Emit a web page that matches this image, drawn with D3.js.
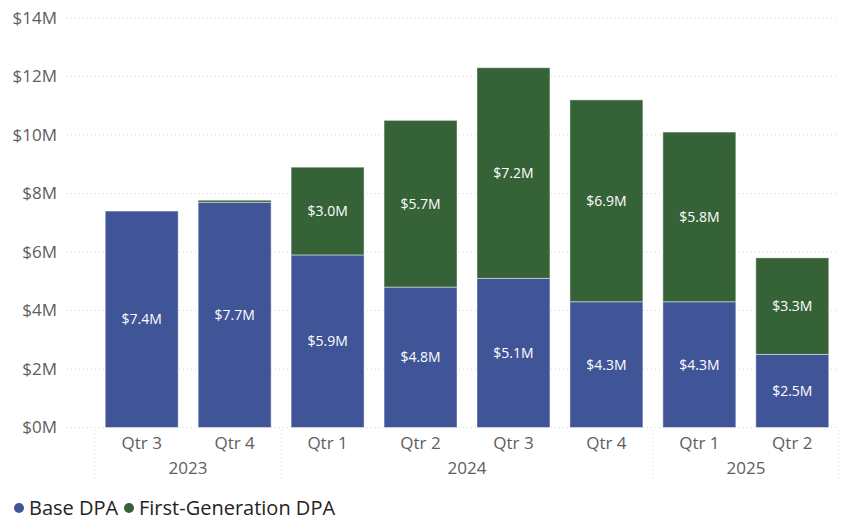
<!DOCTYPE html>
<html>
<head>
<meta charset="utf-8">
<script src="https://cdn.jsdelivr.net/npm/d3@7"></script>
<style>
  body { margin: 0; background: #fff; }
  text { font-family: "Open Sans", "Noto Sans", sans-serif; }
</style>
</head>
<body>
<div id="chart"></div>
<script>
// quarters and years
var quarters = ["Qtr 3", "Qtr 4", "Qtr 1", "Qtr 2", "Qtr 3", "Qtr 4", "Qtr 1", "Qtr 2"];
var years = ["2023", "2023", "2024", "2024", "2024", "2024", "2025", "2025"];
var baseDPA = [7.4, 7.7, 5.9, 4.8, 5.1, 4.3, 4.3, 2.5];
var firstGenDPA = [0, 0.07, 3.0, 5.7, 7.2, 6.9, 5.8, 3.3];
var yTicks = [0, 2, 4, 6, 8, 10, 12, 14];
var seriesNames = ["Base DPA", "First-Generation DPA"];
var colors = ["#3F5597", "#356337"];

var width = 850, height = 521;
var plot = { left: 95, right: 839, top: 18, bottom: 427.5 };

var svg = d3.select("#chart").append("svg")
    .attr("width", width)
    .attr("height", height);

var data = quarters.map(function (q, i) {
    return { key: i, q: q, year: years[i], base: baseDPA[i], first: firstGenDPA[i] };
});

var x = d3.scaleBand()
    .domain(data.map(function (d) { return d.key; }))
    .range([plot.left, plot.right])
    .paddingInner(0.215)
    .paddingOuter(0.11);

var y = d3.scaleLinear().domain([0, 14]).range([plot.bottom, plot.top]);

// gridlines
svg.append("g")
    .selectAll("line")
    .data(yTicks)
    .enter().append("line")
    .attr("x1", 67)
    .attr("x2", plot.right)
    .attr("y1", function (d) { return y(d); })
    .attr("y2", function (d) { return y(d); })
    .attr("stroke", "#d9d9d9")
    .attr("stroke-width", 1)
    .attr("stroke-dasharray", "1,3");

// y axis labels
var yAxis = svg.append("g")
    .attr("transform", "translate(57,0)")
    .call(d3.axisLeft(y).tickValues(yTicks).tickSize(0).tickPadding(0)
        .tickFormat(function (d) { return "$" + d + "M"; }));
yAxis.select(".domain").remove();
yAxis.selectAll("text")
    .attr("fill", "#605E5C")
    .style("font-size", "17px")
    .style("font-family", "'Open Sans', sans-serif");

// stacked bars
var stack = d3.stack().keys(["base", "first"]);
var layers = stack(data);

var groups = svg.selectAll(".layer")
    .data(layers)
    .enter().append("g")
    .attr("class", "layer")
    .attr("fill", function (d, i) { return colors[i]; });

groups.selectAll("rect")
    .data(function (d) { return d; })
    .enter().append("rect")
    .filter(function (d) { return d[1] - d[0] > 0; })
    .attr("x", function (d) { return x(d.data.key); })
    .attr("width", x.bandwidth())
    .attr("y", function (d) { return y(d[1]); })
    .attr("height", function (d) { return y(d[0]) - y(d[1]); })
    .attr("stroke", "rgba(255,255,255,0.45)")
    .attr("stroke-width", 1);

// data labels
groups.selectAll("text.lbl")
    .data(function (d) { return d; })
    .enter().append("text")
    .filter(function (d) { return d[1] - d[0] >= 0.5; })
    .attr("class", "lbl")
    .attr("x", function (d) { return x(d.data.key) + x.bandwidth() / 2; })
    .attr("y", function (d) { return y((d[0] + d[1]) / 2); })
    .attr("dy", "0.35em")
    .attr("text-anchor", "middle")
    .attr("fill", "#ffffff")
    .style("font-size", "14px")
    .text(function (d) { return "$" + (d[1] - d[0]).toFixed(1) + "M"; });

// x axis: quarters
svg.append("g")
    .selectAll("text")
    .data(data)
    .enter().append("text")
    .attr("x", function (d) { return x(d.key) + x.bandwidth() / 2; })
    .attr("y", 449)
    .attr("text-anchor", "middle")
    .attr("fill", "#605E5C")
    .style("font-size", "17px")
    .text(function (d) { return d.q; });

// year groups
var yearList = Array.from(new Set(years));
var step = x.step();
var yearGroups = yearList.map(function (yr) {
    var idx = data.filter(function (d) { return d.year === yr; }).map(function (d) { return d.key; });
    var x0 = x(idx[0]) - step * x.paddingInner() / 2;
    var x1 = x(idx[idx.length - 1]) + x.bandwidth() + step * x.paddingInner() / 2;
    return { year: yr, x0: x0, x1: x1 };
});
yearGroups[0].x0 = plot.left;
yearGroups[yearGroups.length - 1].x1 = plot.right;

var seps = [plot.left].concat(yearGroups.map(function (g) { return g.x1; }));
svg.append("g")
    .selectAll("line")
    .data(seps)
    .enter().append("line")
    .attr("x1", function (d) { return d; })
    .attr("x2", function (d) { return d; })
    .attr("y1", 430)
    .attr("y2", 482)
    .attr("stroke", "#d9d9d9")
    .attr("stroke-dasharray", "1,3");

svg.append("g")
    .selectAll("text")
    .data(yearGroups)
    .enter().append("text")
    .attr("x", function (d) { return (d.x0 + d.x1) / 2; })
    .attr("y", 474)
    .attr("text-anchor", "middle")
    .attr("fill", "#605E5C")
    .style("font-size", "17px")
    .text(function (d) { return d.year; });

// legend
var legend = svg.append("g").attr("transform", "translate(0,508)");
var lx = [19, 129];
seriesNames.forEach(function (name, i) {
    legend.append("circle")
        .attr("cx", lx[i])
        .attr("cy", 0)
        .attr("r", 5)
        .attr("fill", colors[i]);
    legend.append("text")
        .attr("x", lx[i] + 10)
        .attr("y", 0)
        .attr("dy", "0.35em")
        .attr("fill", "#252423")
        .style("font-size", "20px")
        .text(name);
});
</script>
</body>
</html>
